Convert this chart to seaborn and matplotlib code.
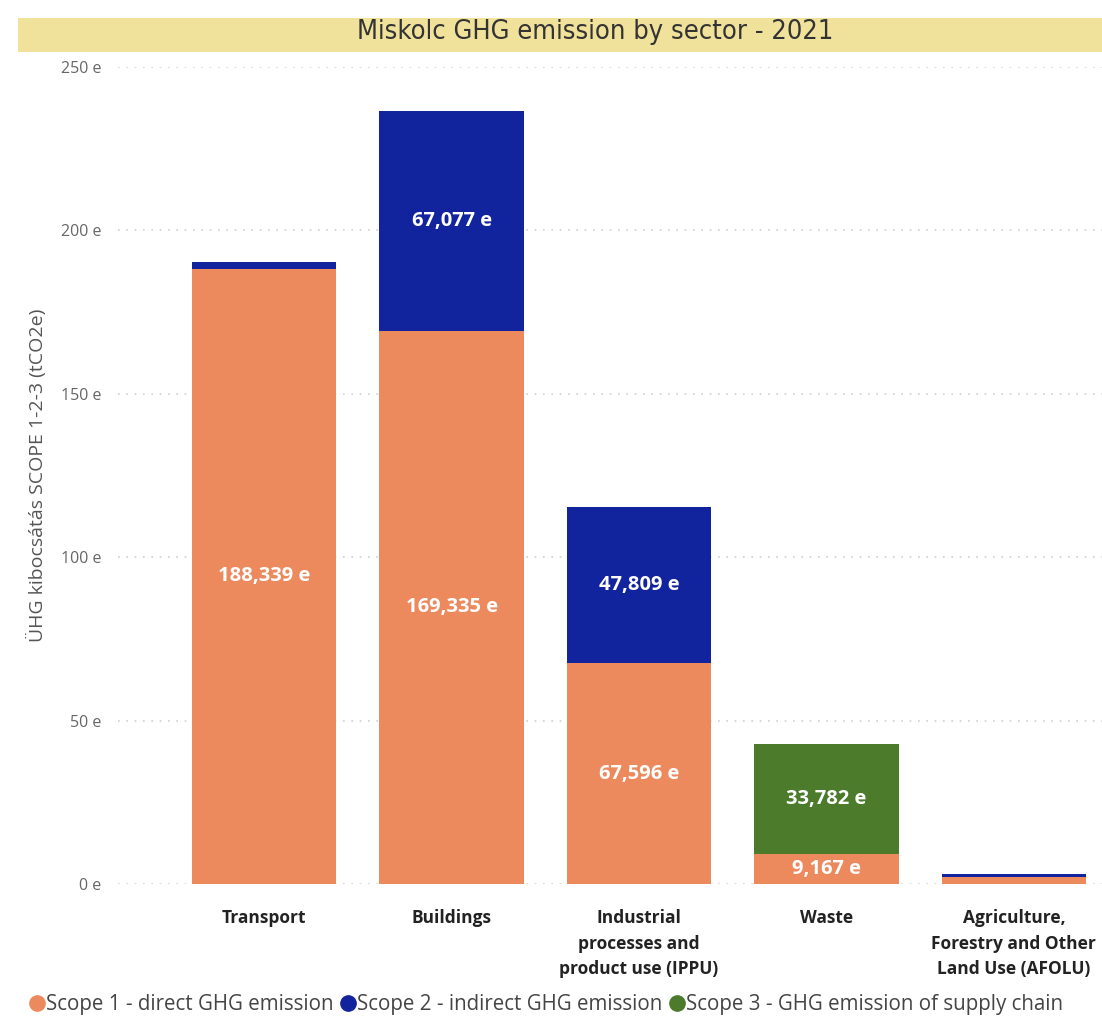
import matplotlib
matplotlib.use('Agg')
import matplotlib.pyplot as plt
import seaborn as sns
import pandas as pd
from matplotlib.lines import Line2D
from matplotlib.patches import Rectangle

# data (thousand tCO2e, "e" = ezer)
sectors = ['Transport', 'Buildings', 'Industrial\nprocesses and\nproduct use (IPPU)',
           'Waste', 'Agriculture,\nForestry and Other\nLand Use (AFOLU)']
scope1 = [188.339, 169.335, 67.596, 9.167, 2.2]
scope2 = [2.0, 67.077, 47.809, 0.0, 0.7]
scope3 = [0.0, 0.0, 0.0, 33.782, 0.0]
y_ticks = [0, 50, 100, 150, 200, 250]
series_names = ['Scope 1 - direct GHG emission', 'Scope 2 - indirect GHG emission',
                'Scope 3 - GHG emission of supply chain']
colors = ['#EC8A5E', '#12239E', '#4B7B2B']

sns.set_theme(style='white')
plt.rcParams['font.family'] = ['Open Sans', 'DejaVu Sans']

df = pd.DataFrame({'sector': sectors, 's1': scope1, 's2': scope2, 's3': scope3})
df['b2'] = df['s1']
df['b3'] = df['s1'] + df['s2']

fig = plt.figure(figsize=(11.02, 10.17), dpi=100)
ax = fig.add_axes([0.107, 0.1308, 0.893, 0.8033])

# title band
fig.patches.append(Rectangle((18 / 1102, 1 - 52 / 1017), 1 - 18 / 1102, 34 / 1017,
                             transform=fig.transFigure, facecolor='#F0E19B',
                             edgecolor='none', zorder=0))
fig.text(0.54, 1 - 32 / 1017, 'Miskolc GHG emission by sector - 2021', ha='center', va='center',
         fontsize=19.5, color='#333333', family='DejaVu Sans', fontstretch='condensed')

for t in y_ticks:
    ax.axhline(t, color='#D0D0D0', linestyle=(0, (1, 4)), linewidth=1.2, zorder=0)

bar_kw = dict(x='sector', width=0.77, saturation=1, linewidth=0, ax=ax, zorder=2)
sns.barplot(data=df, y='s1', color=colors[0], **bar_kw)
sns.barplot(data=df, y='s2', bottom=df['b2'], color=colors[1], **bar_kw)
sns.barplot(data=df, y='s3', bottom=df['b3'], color=colors[2], **bar_kw)

# data labels
for i, row in df.iterrows():
    for val, base in [(row['s1'], 0), (row['s2'], row['b2']), (row['s3'], row['b3'])]:
        if val > 5:
            txt = f'{val:.3f} e'.replace('.', ',')
            ax.text(i, base + val / 2, txt, ha='center', va='center', color='white',
                    fontsize=14.5, fontweight='bold', zorder=3)

ax.set_xlim(-0.78, 4.47)
ax.set_ylim(0, 250)
ax.set_yticks(y_ticks)
ax.set_yticklabels([f'{t} e' for t in y_ticks], fontsize=11.5, color='#666666')
ax.tick_params(axis='y', length=0, pad=12)
ax.tick_params(axis='x', length=0, pad=18)
ax.set_xticks(range(len(sectors)))
ax.set_xticklabels(sectors, fontsize=12.5, fontweight='bold', color='#222222', linespacing=1.55,
                   va='top')
ax.set_xlabel('')
ax.set_ylabel('ÜHG kibocsátás SCOPE 1-2-3 (tCO2e)', fontsize=14, color='#555555', labelpad=10)
sns.despine(ax=ax, left=True, bottom=True)

handles = [Line2D([], [], marker='o', linestyle='none', markersize=11, color=c) for c in colors]
fig.legend(handles, series_names, loc='lower left', bbox_to_anchor=(0.008, -0.016), ncol=3,
           frameon=False, fontsize=14.8, handletextpad=0.0, columnspacing=0.25,
           handlelength=0.9, labelcolor='#444444')

fig.savefig('out.png', dpi=100)
